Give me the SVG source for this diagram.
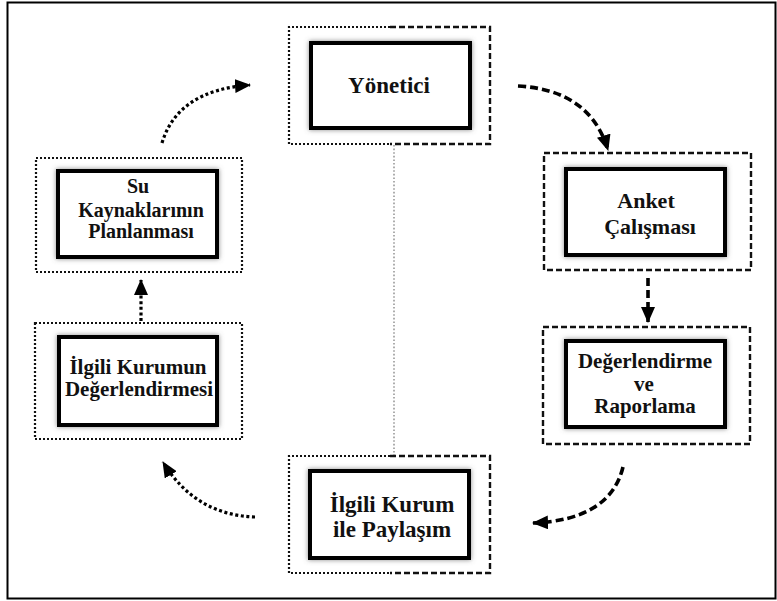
<svg xmlns="http://www.w3.org/2000/svg" width="777" height="601" viewBox="0 0 777 601">
<style>
.frame{fill:none;stroke:#000;stroke-width:2}
.inner{fill:#fff;stroke:#000;stroke-width:4;filter:url(#glow)}
.dot{fill:none;stroke:#111;stroke-width:2.2;stroke-dasharray:2 2}
.dash{fill:none;stroke:#111;stroke-width:2.4;stroke-dasharray:6 3}
.cdot{fill:none;stroke:#000;stroke-width:3.2;stroke-dasharray:3 2.6}
.cdash{fill:none;stroke:#000;stroke-width:3.6;stroke-dasharray:8 4}
.thin{fill:none;stroke:#999;stroke-width:1.6;stroke-dasharray:1.6 2}
text{font-family:"Liberation Serif","Times New Roman","DejaVu Serif",serif;font-weight:bold;fill:#111;text-anchor:middle}
</style>
<defs>
<filter id="glow" x="-15%" y="-20%" width="130%" height="140%">
<feGaussianBlur in="SourceAlpha" stdDeviation="2.5" result="b"/>
<feFlood flood-color="#777" flood-opacity="0.85"/>
<feComposite in2="b" operator="in" result="s"/>
<feMerge><feMergeNode in="s"/><feMergeNode in="SourceGraphic"/></feMerge>
</filter>
<marker id="ah" viewBox="0 0 16 14" refX="15" refY="7" markerWidth="16" markerHeight="14" markerUnits="userSpaceOnUse" orient="auto">
<path d="M0,0 L16,7 L0,14 z" fill="#000"/>
</marker>
</defs>
<rect class="frame" x="7.5" y="2.5" width="768" height="596"/>
<g id="connectors">
<path class="thin" d="M394,145 V455"/>
<path class="cdot" d="M162,143 Q178,90 250,85" marker-end="url(#ah)"/>
<path class="cdash" d="M518,86 Q590,90 608,150" marker-end="url(#ah)"/>
<path class="cdash" d="M648,278 V322" marker-end="url(#ah)"/>
<path class="cdash" d="M623,467 Q610,520 533,523" marker-end="url(#ah)"/>
<path class="cdot" d="M255,517 Q195,515 163,462" marker-end="url(#ah)"/>
<path class="cdot" d="M141,321 V280" marker-end="url(#ah)"/>
</g>
<g id="yonetici">
<path class="dot" d="M390,27 H289 V144 H390"/>
<path class="dash" d="M390,27 H490 V144 H390"/>
<rect class="inner" x="311" y="43" width="159" height="85"/>
<text x="389" y="93" font-size="23">Yönetici</text>
</g>
<g id="anket">
<rect class="dash" x="544" y="153" width="207" height="117"/>
<rect class="inner" x="566" y="169" width="159" height="86"/>
<text x="646" y="208" font-size="22">Anket</text>
<text x="650" y="234" font-size="22">Çalışması</text>
</g>
<g id="degerlendirme">
<rect class="dash" x="543" y="327" width="207" height="117"/>
<rect class="inner" x="566" y="341" width="159" height="86"/>
<text x="645" y="368" font-size="21">Değerlendirme</text>
<text x="644" y="391" font-size="21">ve</text>
<text x="645" y="413" font-size="21">Raporlama</text>
</g>
<g id="paylasim">
<path class="dot" d="M390,456 H289 V573 H390"/>
<path class="dash" d="M390,456 H490 V573 H390"/>
<rect class="inner" x="310" y="471" width="159" height="87"/>
<text x="392" y="512" font-size="23">İlgili Kurum</text>
<text x="392" y="537" font-size="23">ile Paylaşım</text>
</g>
<g id="ilgili-kurumun">
<rect class="dot" x="35" y="323" width="207" height="116"/>
<rect class="inner" x="59" y="337" width="158" height="88"/>
<text x="138" y="374" font-size="21">İlgili Kurumun</text>
<text x="139" y="396" font-size="21">Değerlendirmesi</text>
</g>
<g id="su-kaynaklari">
<rect class="dot" x="36" y="158" width="206" height="114"/>
<rect class="inner" x="58" y="171" width="159" height="86"/>
<text x="138" y="193" font-size="20">Su</text>
<text x="141" y="217" font-size="20">Kaynaklarının</text>
<text x="141" y="238" font-size="20">Planlanması</text>
</g>
</svg>
